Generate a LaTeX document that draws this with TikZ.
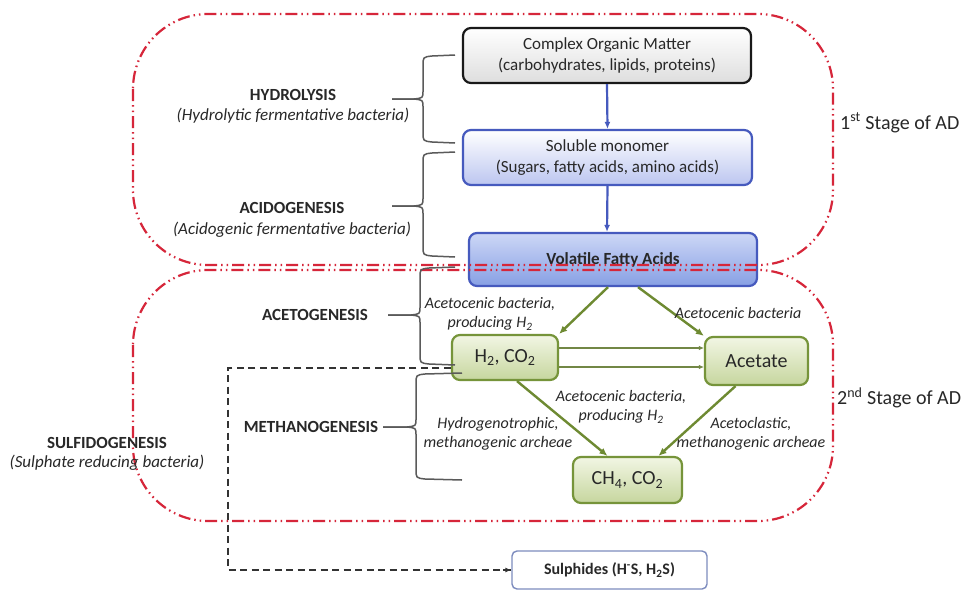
\documentclass[tikz,border=0pt]{standalone}
\usepackage{fontspec}
\setmainfont{Carlito}
\usetikzlibrary{arrows.meta,calc}
\definecolor{bblue}{RGB}{70,90,190}
\definecolor{smbot}{RGB}{188,198,240}
\definecolor{vfatop}{RGB}{205,215,246}
\definecolor{vfabot}{RGB}{135,160,228}
\definecolor{ggreen}{RGB}{118,148,58}
\definecolor{gtop}{RGB}{242,246,228}
\definecolor{gbot}{RGB}{198,214,158}
\definecolor{garrow}{RGB}{110,138,50}
\definecolor{stred}{RGB}{214,38,58}
\definecolor{brgray}{RGB}{90,90,90}
\definecolor{sulph}{RGB}{125,140,190}
\definecolor{txt}{RGB}{40,40,40}
\newcommand{\bracedraw}[6]{%
  \draw[bracestyle] (#1,#4) -- (#2+9,#4+1) .. controls (#2,#4+2) .. (#2,#4+11) -- (#2,#6-8) .. controls (#2,#6-1) .. (#2-9,#6) -- (#3,#6);
  \draw[bracestyle] (#3,#6) -- (#2-9,#6) .. controls (#2,#6+1) .. (#2,#6+8) -- (#2,#5-11) .. controls (#2,#5-2) .. (#2+9,#5-1) -- (#1,#5);
}
\begin{document}
\begin{tikzpicture}[x=1pt,y=-1pt,
  every node/.style={text=txt},
  boxbase/.style={rounded corners=8pt, line width=2.2pt, inner sep=0pt, align=center, font=\fontsize{17}{21}\selectfont},
  greybox/.style={boxbase, draw=black!90, top color=white, bottom color=black!13},
  bluebox/.style={boxbase, draw=bblue, top color=white, bottom color=smbot},
  vfabox/.style={boxbase, draw=bblue, top color=vfatop, bottom color=vfabot},
  greenbox/.style={boxbase, draw=ggreen, top color=gtop, bottom color=gbot, font=\fontsize{20}{23}\selectfont},
  barrow/.style={draw=bblue, line width=2.2pt, -{Latex[length=7pt,width=6pt]}},
  garr/.style={draw=garrow, line width=2.4pt, -{Latex[length=8pt,width=7pt]}},
  thinarr/.style={draw=garrow!75!gray, line width=1.3pt, -{Latex[length=5pt,width=4.5pt]}},
  stage/.style={draw=stred, line width=2.2pt, rounded corners=75pt, dash pattern=on 12pt off 4pt on 1.5pt off 4pt on 1.5pt off 4pt},
  bracestyle/.style={draw=brgray, line width=1.5pt, line join=round},
  sulfline/.style={draw=black!80, line width=2pt, dash pattern=on 7pt off 4.5pt},
  lbl/.style={align=center, inner sep=0pt, font=\fontsize{17}{21}\selectfont},
  illbl/.style={align=center, inner sep=0pt, font=\fontsize{17}{21}\selectfont\itshape},
  ilbl/.style={align=center, inner sep=0pt, font=\fontsize{16}{19}\selectfont\itshape},
  stlbl/.style={anchor=west, inner sep=0pt, font=\fontsize{20}{22}\selectfont}
]
\useasboundingbox (0,0) rectangle (966,589);
\fill[white] (0,0) rectangle (966,589);

% boxes
\node[greybox, minimum width=288pt, minimum height=55pt] (com) at (607,55.5) {Complex Organic Matter\\(carbohydrates, lipids, proteins)};
\node[bluebox, minimum width=289pt, minimum height=55pt] (sm) at (607.5,157.5) {Soluble monomer\\(Sugars, fatty acids, amino acids)};
\node[vfabox, minimum width=288pt, minimum height=53pt] (vfa) at (613,259.5) {\textbf{Volatile Fatty Acids}};
\node[greenbox, minimum width=106pt, minimum height=45pt] (h2) at (505,357.5) {H\textsubscript{2}, CO\textsubscript{2}};
\node[greenbox, minimum width=103pt, minimum height=48pt] (ac) at (756.5,361) {Acetate};
\node[greenbox, minimum width=109pt, minimum height=46pt] (ch4) at (627.5,480) {CH\textsubscript{4}, CO\textsubscript{2}};
\node[boxbase, draw=sulph, line width=1.4pt, rounded corners=5pt, fill=white, minimum width=195pt, minimum height=38pt, font=\fontsize{16}{19}\selectfont] (sul) at (609.5,570) {\textbf{Sulphides (H\textsuperscript{-}S, H\textsubscript{2}S)}};

% arrows
\draw[barrow] (com.south) -- (sm.north);
\draw[barrow] (sm.south) -- ([xshift=-6pt]vfa.north);
\draw[garr] ([xshift=-5pt]vfa.south) -- (h2.north east);
\draw[garr] ([xshift=25pt]vfa.south) -- (ac.north west);
\draw[thinarr] ($(h2.east)+(0,-9.5)$) coordinate (t1) -- (t1 -| ac.west);
\draw[thinarr] ($(h2.east)+(0,9.5)$) coordinate (t2) -- (t2 -| ac.west);
\draw[garr] ([xshift=12pt]h2.south) -- ([xshift=-20pt]ch4.north);
\draw[garr] ([xshift=-21pt]ac.south) -- ([xshift=31pt]ch4.north);

% sulfidogenesis dashed path
\coordinate (sc1) at (228,368);
\coordinate (sc2) at (228,570);
\draw[sulfline] (h2.west |- sc1) -- (sc1) -- (sc2) -- (sul.west |- sc2);
\draw[draw=black!80, line width=1.5pt, -{Latex[length=6pt,width=5pt]}] ($(sul.west |- sc2)+(-8,0)$) -- (sul.west |- sc2);

% red stage boundaries
\draw[stage] (133,14) rectangle (833,265);
\draw[stage] (133,270) rectangle (833,521);

% braces
\bracedraw{455}{423}{392}{55}{143}{99}
\bracedraw{455}{423}{392}{152}{257}{206}
\bracedraw{455}{420}{388}{267}{365}{315}
\bracedraw{462}{416}{383}{373}{480}{427}

% left labels
\node[lbl] (hyd) at (293,95) {\textbf{HYDROLYSIS}};
\node[illbl] (hydb) at (293,116) {(Hydrolytic fermentative bacteria)};
\node[lbl] (aci) at (292,208) {\textbf{ACIDOGENESIS}};
\node[illbl] (acib) at (292,230) {(Acidogenic fermentative bacteria)};
\node[lbl] (ace) at (315,315) {\textbf{ACETOGENESIS}};
\node[lbl] (met) at (311,427) {\textbf{METHANOGENESIS}};
\node[lbl] (sulf) at (107,443) {\textbf{SULFIDOGENESIS}};
\node[illbl] (sulfb) at (107,463) {(Sulphate reducing bacteria)};

% arrow labels
\node[ilbl] (l1) at (490,314) {Acetocenic bacteria,\\producing H\textsubscript{2}};
\node[ilbl] (l2) at (738,313) {Acetocenic bacteria};
\node[ilbl] (l3) at (621,407) {Acetocenic bacteria,\\producing H\textsubscript{2}};
\node[ilbl] (l4) at (498,434) {Hydrogenotrophic,\\methanogenic archeae};
\node[ilbl] (l5) at (751,434) {Acetoclastic,\\methanogenic archeae};

% stage labels
\node[stlbl] (s1) at (840,123) {1\textsuperscript{st} Stage of AD};
\node[stlbl] (s2) at (837,398) {2\textsuperscript{nd} Stage of AD};
\end{tikzpicture}
\end{document}
